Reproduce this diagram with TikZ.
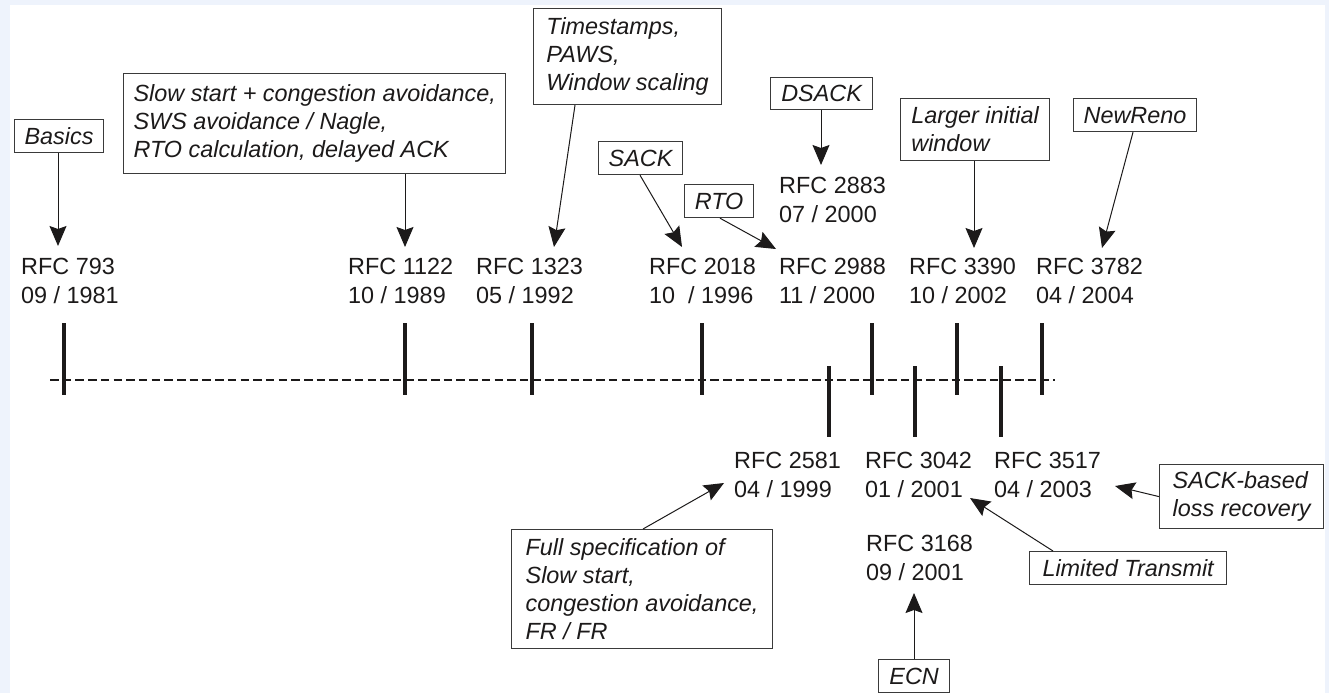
\documentclass[tikz,border=0pt]{standalone}
\usepackage{fontspec}
\setmainfont{Liberation Sans}
\usetikzlibrary{arrows.meta}
\definecolor{bgblue}{HTML}{EEF3FC}
\definecolor{ink}{HTML}{1C1A1A}
\definecolor{boxline}{HTML}{3A3A3A}
\begin{document}
\begin{tikzpicture}[x=1pt,y=-1pt,
  box/.style={draw=boxline, line width=1.2pt, font=\fontsize{23.4}{28}\selectfont\itshape,
    align=left, inner xsep=10pt, inner ysep=5pt, text=ink, anchor=north west},
  rfc/.style={font=\fontsize{23.4}{28.5}\selectfont, align=left, anchor=north west,
    inner sep=0pt, text=ink},
  arr/.style={-{Stealth[length=20pt,width=17pt,inset=3pt]}, line width=1pt, draw=ink},
  tickmark/.style={line width=3.2pt, draw=ink},
  tline/.style={line width=2.6pt, draw=ink, dash pattern=on 8.5pt off 4.2pt}]
\useasboundingbox (0,0) rectangle (1329,693);
\fill[bgblue] (0,0) rectangle (1329,693);
\fill[white] (10,5) rectangle (1325,693);

% timeline
\draw[tline] (50,380) -- (1055,380);
% upper ticks
\foreach \x in {64,405,532,702,872,957,1042} \draw[tickmark] (\x,323) -- (\x,395);
% lower ticks
\foreach \x in {829,915,1001} \draw[tickmark] (\x,366) -- (\x,437);

% RFC labels (upper)
\node[rfc] (r793)  at (21,258)   {RFC 793\\09 / 1981};
\node[rfc] (r1122) at (348,258)  {RFC 1122\\10 / 1989};
\node[rfc] (r1323) at (476,258)  {RFC 1323\\05 / 1992};
\node[rfc] (r2018) at (649,258)  {RFC 2018\\10\ \ / 1996};
\node[rfc] (r2988) at (779,258)  {RFC 2988\\11 / 2000};
\node[rfc] (r3390) at (909,258)  {RFC 3390\\10 / 2002};
\node[rfc] (r3782) at (1036,258) {RFC 3782\\04 / 2004};
\node[rfc] (r2883) at (779,177)  {RFC 2883\\07 / 2000};
% RFC labels (lower)
\node[rfc] (r2581) at (734,452)  {RFC 2581\\04 / 1999};
\node[rfc] (r3042) at (865,452)  {RFC 3042\\01 / 2001};
\node[rfc] (r3517) at (994,452)  {RFC 3517\\04 / 2003};
\node[rfc] (r3168) at (866,535)  {RFC 3168\\09 / 2001};

% boxes
\node[box, minimum width=88pt, minimum height=33pt] (basics) at (14,119) {Basics};
\node[box, minimum height=100pt] (slow) at (123,73) {Slow start + congestion avoidance,\\SWS avoidance / Nagle,\\RTO calculation, delayed ACK};
\node[box, minimum width=188pt, minimum height=96pt] (ts) at (533,8) {Timestamps,\\PAWS,\\Window scaling};
\node[box, minimum width=84pt, minimum height=33pt] (sack) at (598,141) {SACK};
\node[box, minimum width=69pt, minimum height=33pt] (rto) at (684,184) {RTO};
\node[box, minimum width=102pt, minimum height=32pt] (dsack) at (770,77) {DSACK};
\node[box, minimum width=149pt, minimum height=62pt] (larger) at (900,98) {Larger initial\\window};
\node[box, minimum width=122pt, minimum height=33pt] (newreno) at (1073,98) {NewReno};
\node[box, minimum width=261pt, minimum height=119pt] (full) at (511,529) {Full specification of\\Slow start,\\congestion avoidance,\\FR / FR};
\node[box, minimum width=164pt, minimum height=64pt] (sackb) at (1159,464) {SACK-based\\loss recovery};
\node[box, minimum width=197pt, minimum height=33pt] (limited) at (1029,551) {Limited Transmit};
\node[box, minimum width=71pt, minimum height=33pt] (ecn) at (878,659) {ECN};

% arrow tips
\coordinate (t793)  at (58,246);
\coordinate (t1122) at (405,247);
\coordinate (t1323) at (554,247);
\coordinate (t2018) at (682,247);
\coordinate (t2988) at (776,249);
\coordinate (t2883) at (821,165);
\coordinate (t3390) at (974,248);
\coordinate (t3782) at (1102,248);
\coordinate (t2581) at (724,483);
\coordinate (t3517) at (1115,486);
\coordinate (t3042) at (970,498);
\coordinate (t3168) at (914,593);

% connectors
\draw[arr] ([xshift=44pt]basics.south west) -- (t793);
\draw[arr] ([xshift=282pt]slow.south west) -- (t1122);
\draw[arr] ([xshift=42pt]ts.south west) -- (t1323);
\draw[arr] ([xshift=42pt]sack.south west) -- (t2018);
\draw[arr] ([xshift=36pt]rto.south west) -- (t2988);
\draw[arr] ([xshift=51pt]dsack.south west) -- (t2883);
\draw[arr] ([xshift=74pt]larger.south west) -- (t3390);
\draw[arr] ([xshift=60pt]newreno.south west) -- (t3782);
\draw[arr] ([xshift=132pt]full.north west) -- (t2581);
\draw[arr] (sackb.west) -- (t3517);
\draw[arr] ([xshift=24pt]limited.north west) -- (t3042);
\draw[arr] ([xshift=36pt]ecn.north west) -- (t3168);
\end{tikzpicture}
\end{document}
